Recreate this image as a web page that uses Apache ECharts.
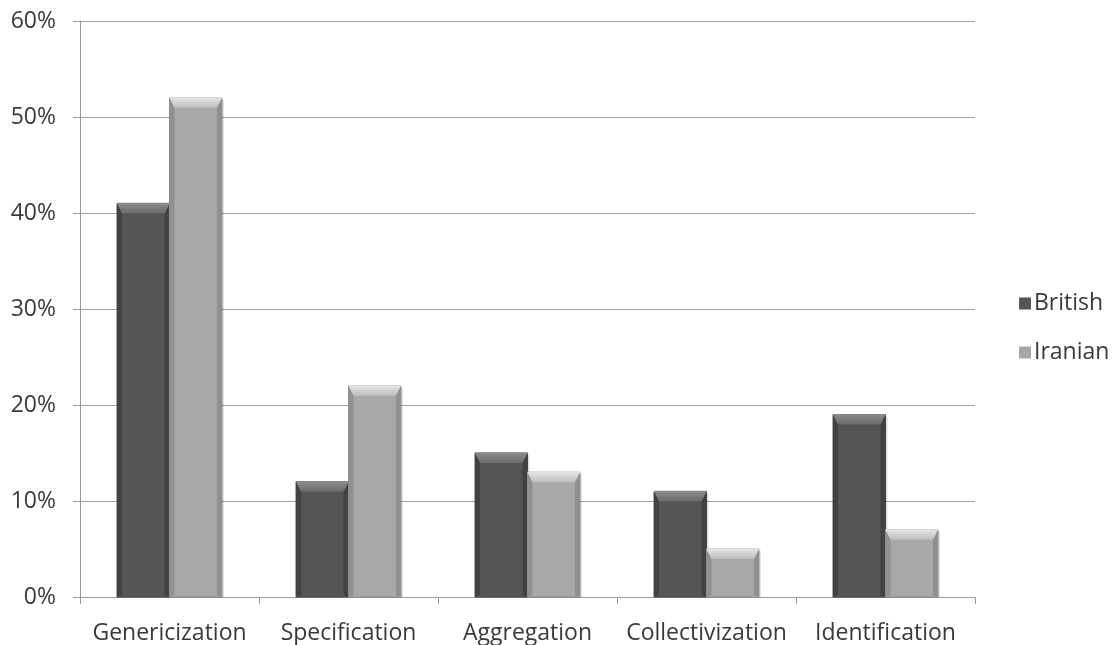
<!DOCTYPE html>
<html>
<head>
<meta charset="utf-8">
<script src="https://cdn.jsdelivr.net/npm/echarts@6/dist/echarts.min.js"></script>
<style>
  html, body { margin: 0; padding: 0; background: #fff; }
  #chart { width: 1118px; height: 645px; }
</style>
</head>
<body>
<div id="chart"></div>
<script>
const categories = ['Genericization', 'Specification', 'Aggregation', 'Collectivization', 'Identification'];
const british = [41, 12, 15, 11, 19];
const iranian = [52, 22, 13, 5, 7];
const yTicks = [0, 10, 20, 30, 40, 50, 60];

const FONT = 'Open Sans';
const TEXT = '#3a3a3a';

// Shade palettes for the bevelled bars
const shades = {
  British: { body: '#555555', edge: '#424242', cap: '#6a6a6a', capLight: '#8c8c8c', line: '#444' },
  Iranian: { body: '#a8a8a8', edge: '#909090', cap: '#bdbdbd', capLight: '#e4e4e4', line: '#8a8a8a' }
};

function bevelBar(offset, s) {
  return function (params, api) {
    const cat = api.value(0);
    const val = api.value(1);
    const base = api.coord([cat, 0]);
    const top = api.coord([cat, val]);
    const bw = api.size([1, 0])[0] * 0.293;
    const x0 = base[0] + offset * bw - bw / 2;
    const x1 = x0 + bw;
    const y0 = top[1];
    const y1 = base[1];
    const b = Math.min(10, (y1 - y0) / 2);
    const e = 5;
    return {
      type: 'group',
      children: [
        { type: 'rect', shape: { x: x0 + 2, y: y0 + 2, width: bw, height: y1 - y0 - 2 },
          style: { fill: 'rgba(0,0,0,0.12)' } },
        { type: 'rect', shape: { x: x0, y: y0, width: bw, height: y1 - y0 },
          style: { fill: s.body, stroke: s.line, lineWidth: 1 } },
        { type: 'polygon', shape: { points: [[x0, y0], [x0 + e, y0 + b], [x0 + e, y1 - 2], [x0, y1]] },
          style: { fill: s.edge } },
        { type: 'polygon', shape: { points: [[x1, y0], [x1 - e, y0 + b], [x1 - e, y1 - 2], [x1, y1]] },
          style: { fill: s.edge } },
        { type: 'polygon', shape: { points: [[x0, y0], [x1, y0], [x1 - e, y0 + b], [x0 + e, y0 + b]] },
          style: { fill: { type: 'linear', x: 0, y: 0, x2: 0, y2: 1,
            colorStops: [{ offset: 0, color: s.capLight }, { offset: 1, color: s.cap }] } } },
        { type: 'line', shape: { x1: x0, y1: y0, x2: x1, y2: y0 },
          style: { stroke: s.capLight, lineWidth: 1 } }
      ]
    };
  };
}

const chart = echarts.init(document.getElementById('chart'));
chart.setOption({
  animation: false,
  grid: { left: 80, right: 143, top: 21, bottom: 48 },
  legend: {
    orient: 'vertical',
    left: 1014,
    top: 287,
    itemGap: 26,
    itemWidth: 12,
    itemHeight: 12,
    icon: 'rect',
    textStyle: { fontFamily: FONT, fontSize: 23, color: TEXT, padding: [0, 0, 0, -2] },
    data: ['British', 'Iranian']
  },
  xAxis: {
    type: 'category',
    data: categories,
    axisLine: { lineStyle: { color: '#9a9a9a', width: 1 } },
    axisTick: { show: true, length: 7, lineStyle: { color: '#9a9a9a' } },
    axisLabel: { fontFamily: FONT, fontSize: 23, color: TEXT, margin: 25, interval: 0 },
    splitLine: { show: false }
  },
  yAxis: {
    type: 'value',
    min: 0,
    max: 60,
    interval: 10,
    axisLine: { show: true, lineStyle: { color: '#9a9a9a', width: 1 } },
    axisTick: { show: true, length: 7, lineStyle: { color: '#9a9a9a' } },
    axisLabel: { fontFamily: FONT, fontSize: 23, color: TEXT, margin: 24,
      formatter: v => yTicks.includes(v) ? v + '%' : '' },
    splitLine: { lineStyle: { color: '#a0a0a0', width: 1 } }
  },
  series: [
    { name: 'British', type: 'custom', itemStyle: { color: '#555555' },
      renderItem: bevelBar(-0.5, shades.British),
      data: british.map((v, i) => [i, v]) },
    { name: 'Iranian', type: 'custom', itemStyle: { color: '#a8a8a8' },
      renderItem: bevelBar(0.5, shades.Iranian),
      data: iranian.map((v, i) => [i, v]) }
  ]
});
</script>
</body>
</html>
